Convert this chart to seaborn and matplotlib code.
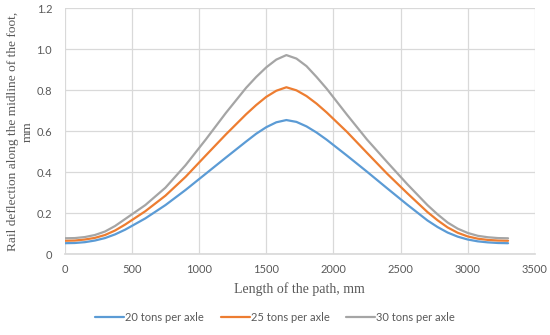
import numpy as np
import pandas as pd
import matplotlib
matplotlib.use('Agg')
import matplotlib.pyplot as plt
import seaborn as sns

# values
length_mm = [0, 75, 150, 225, 300, 375, 450, 600, 750, 900, 1050, 1200, 1350, 1425, 1500, 1575, 1650,
             1725, 1800, 1875, 1950, 2100, 2250, 2400, 2550, 2700, 2775, 2850, 2925, 3000, 3075, 3150, 3225, 3300]
t20 = [0.054, 0.055, 0.059, 0.067, 0.079, 0.097, 0.120, 0.175, 0.240, 0.314, 0.393, 0.472, 0.550, 0.588, 0.620, 0.644, 0.655,
       0.646, 0.624, 0.594, 0.559, 0.482, 0.403, 0.322, 0.242, 0.165, 0.133, 0.106, 0.086, 0.072, 0.063, 0.058, 0.055, 0.054]
t25 = [0.066, 0.067, 0.072, 0.080, 0.094, 0.116, 0.145, 0.210, 0.286, 0.378, 0.482, 0.585, 0.683, 0.728, 0.768, 0.798, 0.815,
       0.800, 0.772, 0.735, 0.692, 0.598, 0.495, 0.393, 0.298, 0.206, 0.166, 0.131, 0.105, 0.087, 0.076, 0.070, 0.067, 0.066]
t30 = [0.078, 0.079, 0.084, 0.094, 0.111, 0.138, 0.172, 0.240, 0.325, 0.435, 0.560, 0.690, 0.812, 0.865, 0.912, 0.950, 0.972,
       0.955, 0.918, 0.865, 0.808, 0.682, 0.560, 0.450, 0.342, 0.240, 0.195, 0.155, 0.125, 0.104, 0.090, 0.083, 0.079, 0.078]
series = ['20 tons per axle', '25 tons per axle', '30 tons per axle']
colors = ['#5B9BD5', '#ED7D31', '#A5A5A5']

df = pd.DataFrame({'x': length_mm * 3,
                   'y': t20 + t25 + t30,
                   'load': np.repeat(series, len(length_mm))})

sns.set_theme(style='white')
plt.rcParams['font.family'] = ['Lato', 'DejaVu Sans']

fig = plt.figure(figsize=(5.5, 3.35), dpi=100)
ax = fig.add_axes([0.1176, 0.241, 0.855, 0.734])

sns.lineplot(data=df, x='x', y='y', hue='load', hue_order=series,
             palette=colors, linewidth=1.6, ax=ax, legend=True)
for ln in ax.lines:
    ln.set_solid_joinstyle('round')

ax.set_xlim(0, 3500)
ax.set_ylim(0, 1.2)
ax.set_xticks(range(0, 3501, 500))
ax.set_yticks([0, 0.2, 0.4, 0.6, 0.8, 1.0, 1.2])
ax.set_yticklabels(['0', '0.2', '0.4', '0.6', '0.8', '1.0', '1.2'])
ax.grid(True, color='#D9D9D9', linewidth=0.9)
ax.set_axisbelow(True)
for s in ['top', 'right', 'left']:
    ax.spines[s].set_visible(False)
ax.spines['bottom'].set_color('#D9D9D9')
ax.tick_params(axis='x', length=0, labelsize=8, labelcolor='#595959', pad=7)
ax.tick_params(axis='y', length=0, labelsize=8, labelcolor='#595959', pad=9)

serif = ['Liberation Serif', 'DejaVu Serif']
ax.set_xlabel('Length of the path, mm', family=serif, fontsize=10, color='#595959', labelpad=5)
ax.set_ylabel('Rail deflection along the midline of the foot,\nmm', family=serif,
              fontsize=9.6, color='#595959', labelpad=2, linespacing=1.35)

handles, labels = ax.get_legend_handles_labels()
ax.legend_.remove()
fig.legend(handles, labels, loc='lower center', bbox_to_anchor=(0.5, 0.005), ncol=3,
           frameon=False, fontsize=8, handlelength=2.6, columnspacing=1.5,
           handletextpad=0.1, labelcolor='#595959')

fig.savefig('out.png', dpi=100)
